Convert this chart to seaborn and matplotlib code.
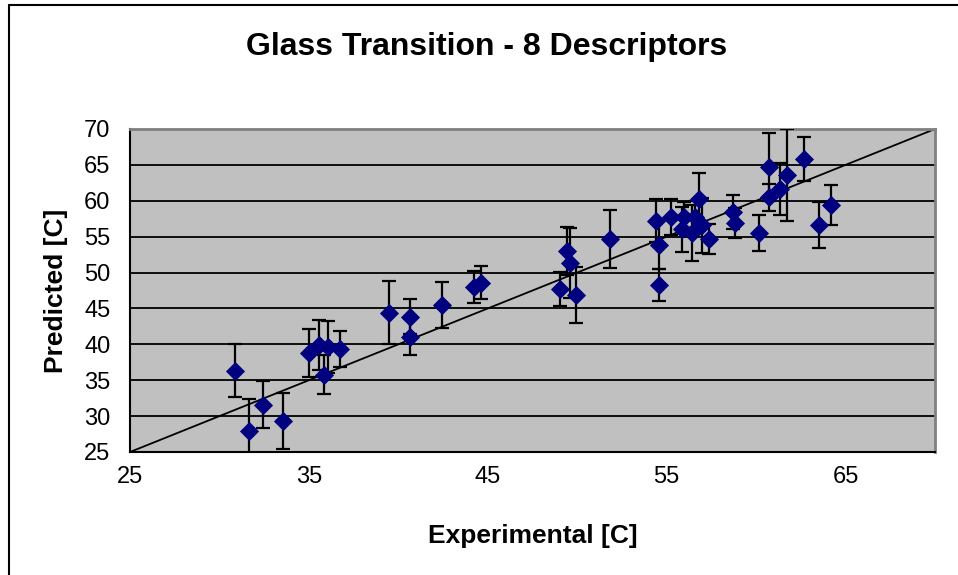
import matplotlib
matplotlib.use("Agg")
import matplotlib.pyplot as plt
import seaborn as sns
import pandas as pd
from matplotlib.lines import Line2D

experimental = [30.87, 31.65, 32.41, 33.53, 34.98, 35.56, 35.87, 36.09, 36.76, 39.47,
                40.68, 40.68, 42.46, 44.25, 44.60, 49.06, 49.41, 49.62, 49.95, 51.85,
                54.43, 54.55, 54.55, 55.22, 55.96, 55.87, 56.43, 56.56, 56.79, 57.00,
                57.35, 58.72, 58.83, 60.14, 60.70, 60.70, 61.35, 61.70, 62.70, 63.50, 64.16]
predicted = [36.30, 27.97, 31.60, 29.36, 38.80, 39.95, 35.77, 39.67, 39.35, 44.40,
             43.85, 41.05, 45.47, 48.00, 48.60, 47.70, 53.00, 51.36, 46.87, 54.70,
             57.20, 53.90, 48.30, 57.70, 57.77, 56.00, 55.56, 57.77, 60.20, 56.60,
             54.67, 58.40, 56.85, 55.55, 60.47, 64.70, 61.60, 63.60, 65.80, 56.60, 59.40]
error = [3.7, 4.4, 3.3, 3.9, 3.3, 3.5, 2.7, 3.6, 2.5, 4.4,
         2.45, 2.5, 3.2, 2.2, 2.3, 2.4, 3.3, 4.9, 3.9, 4.0,
         3.0, 3.4, 2.2, 2.5, 2.0, 3.1, 3.9, 2.2, 3.7, 3.85,
         2.1, 2.4, 2.1, 2.5, 1.9, 4.7, 3.6, 6.4, 3.05, 3.2, 2.8]
ideal_line = [25, 70]
x_ticks = [25, 35, 45, 55, 65]
y_ticks = [25, 30, 35, 40, 45, 50, 55, 60, 65, 70]

df = pd.DataFrame({"Experimental": experimental, "Predicted": predicted, "err": error})
line_df = pd.DataFrame({"x": ideal_line, "y": ideal_line})

sns.set_style("white")
plt.rcParams["font.family"] = ["Liberation Sans", "DejaVu Sans"]
plt.rcParams["text.color"] = "black"
plt.rcParams["axes.labelcolor"] = "black"
plt.rcParams["xtick.color"] = "black"
plt.rcParams["ytick.color"] = "black"

fig = plt.figure(figsize=(9.58, 5.75), dpi=100)
ax = fig.add_axes([130/958, 1 - 452/575, (935 - 130)/958, (452 - 129)/575])
ax.set_facecolor("#C0C0C0")

for yv in y_ticks[1:-1]:
    ax.axhline(yv, color="black", lw=1.3, zorder=1)

sns.lineplot(data=line_df, x="x", y="y", color="black", lw=1.3, ax=ax, zorder=2)
ax.errorbar(df["Experimental"], df["Predicted"], yerr=df["err"], fmt="none",
            ecolor="black", elinewidth=1.6, capsize=5, capthick=1.6, zorder=3)
sns.scatterplot(data=df, x="Experimental", y="Predicted", marker="D", s=95,
                color="#000080", edgecolor="#000080", linewidth=0, ax=ax, zorder=4)

ax.set_xlim(25, 70)
ax.set_ylim(25, 70)
ax.set_xticks(x_ticks)
ax.set_yticks(y_ticks)
ax.tick_params(axis="both", direction="out", length=6, width=1.3, color="black",
               labelcolor="black", labelsize=17)
ax.tick_params(axis="x", pad=4)
ax.tick_params(axis="y", pad=8)
for side in ["left", "bottom"]:
    ax.spines[side].set_color("black")
    ax.spines[side].set_linewidth(1.5)
for side in ["top", "right"]:
    ax.spines[side].set_color("#808080")
    ax.spines[side].set_linewidth(2)

ax.set_xlabel("Experimental [C]", fontsize=19, fontweight="bold", labelpad=26,
              color="black")
ax.set_ylabel("Predicted [C]", fontsize=19, fontweight="bold", labelpad=12,
              color="black")
fig.text(487/958, 1 - 47/575, "Glass Transition - 8 Descriptors", ha="center",
         va="center", fontsize=23, fontweight="bold", color="black")

fig.add_artist(Line2D([9/958, 9/958], [0, 1 - 5/575], color="black", lw=1.5,
                      transform=fig.transFigure))
fig.add_artist(Line2D([9/958, 1], [1 - 5/575, 1 - 5/575], color="black", lw=1.5,
                      transform=fig.transFigure))

fig.savefig("out.png", dpi=100)
